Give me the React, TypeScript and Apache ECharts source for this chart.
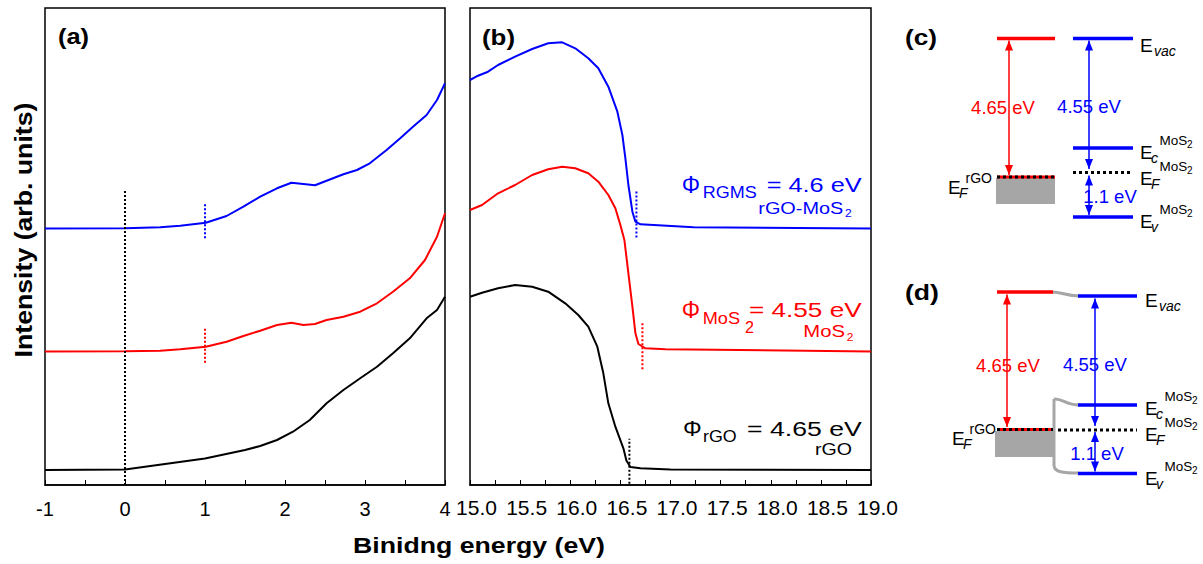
import React, { useEffect, useRef } from 'react';
import * as echarts from 'echarts';

const FAMILY = '"Liberation Sans", Arial, Helvetica, sans-serif';

// ---- Panel (a): valence-band region (x: binding energy in eV, y: intensity, arb. units)
const aTicks = [-1, 0, 1, 2, 3, 4];
const aBlue: [number, number][] = [
  [-1, 256.5], [0, 256.7], [0.44, 257.7], [0.69, 259.3], [1.01, 262.3], [1.27, 269], [1.48, 278.3],
  [1.69, 288.3], [1.9, 296.7], [2.08, 302.3], [2.23, 301], [2.375, 299.7], [2.52, 304.3], [2.73, 310.7],
  [2.9, 315], [3.06, 321.7], [3.27, 335], [3.44, 346.7], [3.6, 358.3], [3.77, 370], [3.9, 385], [4.0, 401.7],
];
const aRed: [number, number][] = [
  [-1, 133.5], [0, 133.7], [0.44, 134.3], [0.69, 135.7], [1.01, 138.3], [1.27, 143.3], [1.48, 149],
  [1.69, 154.3], [1.9, 160], [2.08, 162.3], [2.23, 160], [2.375, 161], [2.52, 165], [2.73, 168.3],
  [2.94, 173.3], [3.15, 181.7], [3.35, 193.3], [3.56, 206.7], [3.75, 225], [3.9, 248.3], [4.0, 271.7],
];
const aBlack: [number, number][] = [
  [-1, 14.9], [0, 15.6], [0.5, 21], [1, 26.4], [1.5, 35], [1.69, 39], [1.9, 45], [2.1, 53.3], [2.31, 65],
  [2.52, 81.7], [2.73, 95], [2.94, 106.7], [3.15, 118.3], [3.35, 131.7], [3.56, 146.7], [3.77, 166.7],
  [3.9, 175], [4.0, 188.3],
];
const aMarkBlack: [number, number][] = [[0, 0], [0, 296]];
const aMarkBlue: [number, number][] = [[1, 246.7], [1, 282.3]];
const aMarkRed: [number, number][] = [[1, 122.3], [1, 157.7]];

// ---- Panel (b): secondary-electron cutoff region
const bBlue: [number, number][] = [
  [15.0, 405], [15.08, 409.3], [15.18, 413.3], [15.28, 420], [15.45, 428.3], [15.62, 436], [15.78, 441.7],
  [15.92, 442.7], [16.05, 436.7], [16.18, 426.7], [16.28, 416.7], [16.38, 398.3], [16.47, 373.3],
  [16.52, 350], [16.55, 326.7], [16.58, 300], [16.62, 273.3], [16.65, 263.3], [16.7, 260.7],
  [17.23, 257.7], [19.0, 256.6],
];
const bRed: [number, number][] = [
  [15.0, 275], [15.12, 280], [15.28, 291.7], [15.45, 300], [15.62, 310], [15.78, 315.7], [15.92, 318.3],
  [16.05, 316.7], [16.18, 311.7], [16.28, 303.3], [16.38, 290], [16.45, 276.7], [16.5, 260], [16.54, 245],
  [16.58, 211.7], [16.62, 178.3], [16.65, 151.7], [16.68, 141], [16.75, 136.7], [16.95, 135.7], [19.0, 133.6],
];
const bBlack: [number, number][] = [
  [15.0, 188.3], [15.12, 192.3], [15.28, 196.7], [15.45, 200], [15.62, 198.3], [15.78, 193.3], [15.95, 181.7],
  [16.08, 170], [16.18, 158.3], [16.27, 138.3], [16.33, 111.7], [16.38, 81.7], [16.45, 58.3], [16.53, 36.7],
  [16.56, 24.6], [16.6, 18], [16.7, 16.7], [17.0, 15.6], [19.0, 14.9],
];
const bMarkBlue: [number, number][] = [[16.66, 247.6], [16.66, 295]];
const bMarkRed: [number, number][] = [[16.72, 115.7], [16.72, 162.3]];
const bMarkBlack: [number, number][] = [[16.59, 1.2], [16.59, 46.2]];

const BLUE = '#0000ff';
const RED = '#ff0000';
const GRAY = '#a6a6a6';

let mctx: CanvasRenderingContext2D | null = null;
function fontOf(size: number, bold?: boolean, italic?: boolean) {
  return `${italic ? 'italic ' : ''}${bold ? 'bold ' : ''}${size}px ${FAMILY}`;
}
function measure(text: string, font: string) {
  if (!mctx) mctx = document.createElement('canvas').getContext('2d');
  mctx!.font = font;
  return mctx!.measureText(text).width;
}
function txt(text: string, x: number, y: number, size: number, fill: string, o: any = {}) {
  const font = fontOf(size, o.bold, o.italic);
  const align = o.align || 'left';
  return {
    type: 'text', x, y, z: 100, rotation: o.rotation || 0, scaleX: o.scaleX || 1,
    style: { text, font, fill, textAlign: align, align, textVerticalAlign: 'middle', verticalAlign: 'middle' },
  };
}
// text stretched horizontally so that it spans [left, right]
function fit(text: string, left: number, right: number, cy: number, size: number, fill: string, o: any = {}) {
  const w = measure(text, fontOf(size, o.bold, o.italic));
  return txt(text, left, cy, size, fill, { ...o, scaleX: (right - left) / w });
}
function hl(x1: number, x2: number, y: number, stroke: string, w: number, dash?: number[]) {
  return { type: 'line', z: 50, shape: { x1, y1: y, x2, y2: y }, style: { stroke, lineWidth: w, lineDash: dash } };
}
function vl(x: number, y1: number, y2: number, stroke: string, w = 1.5) {
  return { type: 'line', z: 60, shape: { x1: x, y1, x2: x, y2 }, style: { stroke, lineWidth: w } };
}
function head(x: number, y: number, up: boolean, fill: string) {
  const d = up ? 10 : -10;
  return { type: 'polygon', z: 61, shape: { points: [[x, y], [x - 4, y + d], [x + 4, y + d]] }, style: { fill } };
}
function dArrow(x: number, yTop: number, yBot: number, c: string) {
  return [vl(x, yTop, yBot, c), head(x, yTop, true, c), head(x, yBot, false, c)];
}
function eLabel(x: number, y: number, sub: string, sup?: string) {
  const subX = sup ? x + 11 : x + 14;
  const els: any[] = [txt('E', x, y, 19, '#000'), txt(sub, subX, y + 6, 14, '#000', { italic: true })];
  if (sup === 'MoS2') {
    els.push(txt('MoS', x + 19.5, y - 12, 13.5, '#000'));
    els.push(txt('2', x + 47, y - 8, 10, '#000'));
  } else if (sup) {
    els.push(txt(sup, x + 17.5, y - 9, 14, '#000'));
  }
  return els;
}
function curve(x1: number, y1: number, c1x: number, c1y: number, c2x: number, c2y: number, x2: number, y2: number) {
  return {
    type: 'bezierCurve', z: 45,
    shape: { x1, y1, cpx1: c1x, cpy1: c1y, cpx2: c2x, cpy2: c2y, x2, y2 },
    style: { stroke: GRAY, lineWidth: 3, fill: 'none' },
  };
}

function diagramC() {
  return [
    fit('(c)', 905, 937, 37, 22, '#000', { bold: true }),
    hl(997, 1055, 38.5, RED, 3.5),
    hl(1073, 1133, 38.5, BLUE, 3.5),
    ...eLabel(1140, 45, 'vac'),
    { type: 'rect', z: 40, shape: { x: 996, y: 178, width: 59, height: 26 }, style: { fill: GRAY } },
    hl(997, 1055, 177, RED, 3),
    hl(997, 1055, 177, '#000', 3, [3, 3]),
    ...eLabel(948, 187, 'F', 'rGO'),
    hl(1073, 1133, 148, BLUE, 3.5),
    hl(1073, 1133, 172.5, '#000', 3, [3, 3]),
    hl(1073, 1133, 217, BLUE, 3.5),
    ...eLabel(1140, 152, 'c', 'MoS2'),
    ...eLabel(1140, 178, 'F', 'MoS2'),
    ...eLabel(1140, 221, 'v', 'MoS2'),
    ...dArrow(1009, 40.5, 175, RED),
    ...dArrow(1089, 40.5, 169, BLUE),
    ...dArrow(1089, 175.5, 215, BLUE),
    txt('4.65 eV', 1003, 107, 18.5, RED, { align: 'center' }),
    txt('4.55 eV', 1089, 106, 18.5, BLUE, { align: 'center' }),
    txt('1.1 eV', 1110, 196, 18.5, BLUE, { align: 'center' }),
  ];
}

function diagramD() {
  return [
    fit('(d)', 905, 939, 292, 22, '#000', { bold: true }),
    hl(997, 1053, 292, RED, 3.5),
    curve(1052, 292, 1062, 292, 1066, 296, 1079, 296),
    hl(1078, 1137, 296, BLUE, 3.5),
    ...eLabel(1145, 300, 'vac'),
    { type: 'rect', z: 40, shape: { x: 995, y: 431, width: 58, height: 26 }, style: { fill: GRAY } },
    hl(997, 1053, 429.5, RED, 3),
    hl(997, 1053, 429.5, '#000', 3, [3, 3]),
    ...eLabel(952, 438, 'F', 'rGO'),
    { type: 'line', z: 45, shape: { x1: 1054, y1: 399, x2: 1054, y2: 466 }, style: { stroke: GRAY, lineWidth: 3 } },
    curve(1054, 399, 1062, 398, 1066, 405, 1079, 405),
    curve(1054, 466, 1055, 472, 1062, 473, 1079, 473),
    hl(1078, 1137, 405, BLUE, 3.5),
    hl(1058, 1137, 430, '#000', 3, [3, 3]),
    hl(1078, 1137, 473.5, BLUE, 3.5),
    ...eLabel(1145, 408, 'c', 'MoS2'),
    ...eLabel(1145, 434, 'F', 'MoS2'),
    ...eLabel(1145, 478, 'v', 'MoS2'),
    ...dArrow(1007, 294.5, 427, RED),
    ...dArrow(1095, 298.5, 426, BLUE),
    ...dArrow(1095, 432, 471.5, BLUE),
    txt('4.65 eV', 1008, 365, 18.5, RED, { align: 'center' }),
    txt('4.55 eV', 1095, 364, 18.5, BLUE, { align: 'center' }),
    txt('1.1 eV', 1097, 453, 18.5, BLUE, { align: 'center' }),
  ];
}

function phiLabels() {
  return [
    // rGO-MoS2 (blue)
    fit('Φ', 681.7, 700, 185, 23, BLUE),
    fit('RGMS', 702.7, 756.7, 192.5, 16, BLUE),
    fit('= 4.6 eV', 766.7, 861.7, 185, 21, BLUE),
    fit('rGO-MoS', 758.3, 843.3, 209, 16, BLUE),
    fit('2', 845, 851.7, 213.3, 11, BLUE),
    // MoS2 (red)
    fit('Φ', 681.7, 700, 310, 23, RED),
    fit('MoS', 702.7, 740, 319, 16, RED),
    fit('2', 745, 754, 326.7, 16, RED),
    fit('= 4.55 eV', 749, 861.7, 310, 21, RED),
    fit('MoS', 803.3, 845, 331.7, 16, RED),
    fit('2', 846.7, 853.3, 336.7, 11, RED),
    // rGO (black)
    fit('Φ', 683, 701.7, 428.3, 23, '#000'),
    fit('rGO', 703, 736.7, 436.7, 16, '#000'),
    fit('= 4.65 eV', 747, 861.7, 428.3, 21, '#000'),
    fit('rGO', 815, 852, 450, 16, '#000'),
  ];
}

const lineSeries = (data: [number, number][], color: string, idx: number) => ({
  type: 'line', data, xAxisIndex: idx, yAxisIndex: idx, symbol: 'none', smooth: false,
  lineStyle: { color, width: 2 }, silent: true,
});
const markSeries = (data: [number, number][], color: string, idx: number) => ({
  type: 'line', data, xAxisIndex: idx, yAxisIndex: idx, symbol: 'none',
  lineStyle: { color, width: 2, type: [2, 2] }, silent: true, z: 3,
});

export default function App() {
  const ref = useRef<HTMLDivElement>(null);
  useEffect(() => {
    document.body.style.margin = '0';
    const chart = echarts.init(ref.current!, null, { renderer: 'svg' });
    const axisCommon = {
      type: 'value',
      axisLine: { show: true, onZero: false, lineStyle: { color: '#000', width: 1.5 } },
      axisTick: { show: true, inside: true, length: 5, lineStyle: { color: '#000', width: 1 } },
      splitLine: { show: false },
    };
    chart.setOption({
      animation: false,
      backgroundColor: '#fff',
      grid: [
        { left: 45, top: 8, width: 400, height: 477, show: true, borderColor: '#000', borderWidth: 1.5 },
        { left: 470, top: 8, width: 401, height: 477, show: true, borderColor: '#000', borderWidth: 1.5 },
      ],
      xAxis: [
        {
          ...axisCommon, gridIndex: 0, min: -1, max: 4, interval: 0.5,
          axisLabel: {
            color: '#000', fontSize: 20, fontFamily: FAMILY, margin: 14,
            formatter: (v: number) => (aTicks.includes(v) ? String(v) : ''),
          },
        },
        {
          ...axisCommon, gridIndex: 1, min: 15, max: 19, interval: 0.25,
          axisLabel: {
            color: '#000', fontSize: 21, fontFamily: FAMILY, margin: 12, padding: [0, 0, 0, 13],
            formatter: (v: number) => (Math.abs(v * 2 - Math.round(v * 2)) < 1e-6 ? v.toFixed(1) : ''),
          },
        },
      ],
      yAxis: [
        { type: 'value', gridIndex: 0, min: 0, max: 477, show: false },
        { type: 'value', gridIndex: 1, min: 0, max: 477, show: false },
      ],
      series: [
        lineSeries(aBlue, BLUE, 0),
        lineSeries(aRed, RED, 0),
        lineSeries(aBlack, '#000', 0),
        markSeries(aMarkBlack, '#000', 0),
        markSeries(aMarkBlue, BLUE, 0),
        markSeries(aMarkRed, RED, 0),
        lineSeries(bBlue, BLUE, 1),
        lineSeries(bRed, RED, 1),
        lineSeries(bBlack, '#000', 1),
        markSeries(bMarkBlue, BLUE, 1),
        markSeries(bMarkRed, RED, 1),
        markSeries(bMarkBlack, '#000', 1),
      ],
      graphic: [
        fit('(a)', 58, 89, 37, 22, '#000', { bold: true }),
        fit('(b)', 482, 515, 37, 22, '#000', { bold: true }),
        (() => {
          const w = measure('Intensity (arb. units)', fontOf(24, true));
          return txt('Intensity (arb. units)', 23, 230, 24, '#000', {
            bold: true, align: 'center', rotation: Math.PI / 2, scaleX: 255 / w,
          });
        })(),
        fit('Binidng energy (eV)', 353, 605, 545, 22.5, '#000', { bold: true }),
        ...phiLabels(),
        ...diagramC(),
        ...diagramD(),
      ],
    });
    return () => chart.dispose();
  }, []);
  return <div ref={ref} style={{ width: 1203, height: 564 }} />;
}
